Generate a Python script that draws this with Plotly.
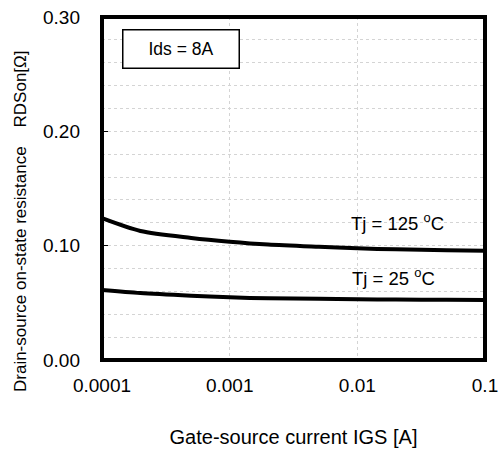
import plotly.graph_objects as go

igs = [1e-4, 2e-4, 5e-4, 1e-3, 2e-3, 5e-3, 1e-2, 2e-2, 5e-2, 1e-1]
rds_125 = [0.124, 0.1128, 0.1068, 0.1035, 0.1010, 0.0990, 0.0977, 0.0968, 0.0960, 0.0956]
rds_25 = [0.0612, 0.0585, 0.0562, 0.0548, 0.0540, 0.0535, 0.0531, 0.0529, 0.0527, 0.0525]
x_tickvals = [1e-4, 1e-3, 1e-2, 1e-1]
x_ticktext = ["0.0001", "0.001", "0.01", "0.1"]
y_tickvals = [0.0, 0.1, 0.2, 0.3]
y_ticktext = ["0.00", "0.10", "0.20", "0.30"]

FONT = "Liberation Sans, Arial, sans-serif"

fig = go.Figure()
for ys in (rds_125, rds_25):
    fig.add_trace(go.Scatter(x=igs, y=ys, mode="lines",
                             line=dict(color="black", width=4, shape="spline", smoothing=0.8),
                             showlegend=False, hoverinfo="skip"))

fig.update_layout(
    width=500, height=451,
    margin=dict(l=102, r=15, t=17, b=91, autoexpand=False),
    paper_bgcolor="white", plot_bgcolor="white",
    font=dict(family=FONT, size=18, color="black"),
    xaxis=dict(type="log", range=[-4, -1], tickvals=x_tickvals, ticktext=x_ticktext,
               showgrid=True, gridcolor="#d4d4d4", griddash="dot", gridwidth=1,
               ticks="", showline=False, zeroline=False, automargin=False,
               tickfont=dict(size=19), ticklabelstandoff=12,
               title=dict(text="Gate-source current IGS [A]", font=dict(size=20), standoff=34)),
    yaxis=dict(range=[0, 0.3], tickvals=y_tickvals, ticktext=y_ticktext,
               showgrid=True, gridcolor="#d4d4d4", griddash="dot", gridwidth=1,
               minor=dict(dtick=0.02, showgrid=True, gridcolor="#d4d4d4", griddash="dot", gridwidth=1, tick0=0),
               ticks="inside", ticklen=6, tickwidth=1, tickcolor="black",
               showline=False, zeroline=False, automargin=False,
               tickfont=dict(size=19), ticklabelstandoff=21),
    shapes=[
        dict(type="rect", xref="paper", yref="paper", x0=0, x1=1, y0=0, y1=1,
             line=dict(color="black", width=4), fillcolor="rgba(0,0,0,0)", layer="above"),
    ],
    annotations=[
        dict(text="Drain-source on-state resistance    RDSon[Ω]", textangle=-90,
             xref="paper", yref="paper", x=(20 - 102) / 383, y=(360 - 221) / 343,
             showarrow=False, font=dict(size=17), xanchor="center", yanchor="middle"),
        dict(text="Ids = 8A", xref="paper", yref="paper", x=(181 - 102) / 383, y=(360 - 49) / 343,
             showarrow=False, font=dict(size=17.5), bordercolor="black", borderwidth=1.5,
             bgcolor="white", width=113, height=35, xanchor="center", yanchor="middle"),
        dict(text="Tj = 125 <sup>o</sup>C", xref="paper", yref="paper", x=(446 - 102) / 383, y=(360 - 222) / 343,
             showarrow=False, font=dict(size=18.5), xanchor="right", yanchor="middle"),
        dict(text="Tj = 25 <sup>o</sup>C", xref="paper", yref="paper", x=(437 - 102) / 383, y=(360 - 277) / 343,
             showarrow=False, font=dict(size=18.5), xanchor="right", yanchor="middle"),
    ],
)

fig.write_html("out.html", config={"displayModeBar": False},
               post_script="document.body.style.margin='0';document.body.style.overflow='hidden';")
